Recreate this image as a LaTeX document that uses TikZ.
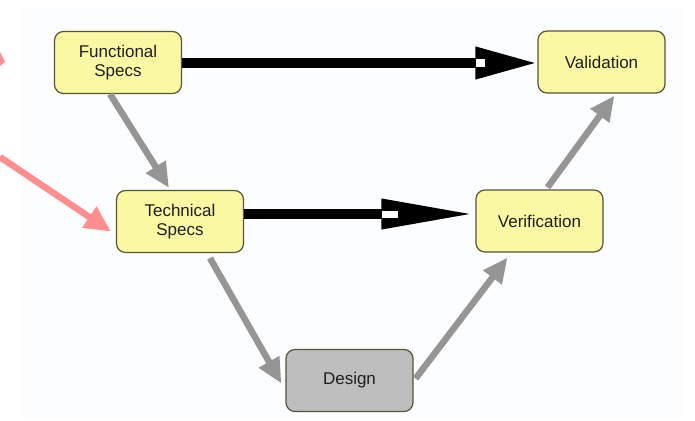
\documentclass[tikz,border=0pt]{standalone}
\usepackage{fontspec}
\setmainfont{Liberation Sans}
\usetikzlibrary{arrows.meta,calc}
\definecolor{boxyellow}{HTML}{FBF8A3}
\definecolor{boxedge}{HTML}{55553A}
\definecolor{designgray}{HTML}{BEBEBE}
\definecolor{arrowgray}{HTML}{959595}
\definecolor{pinkarrow}{HTML}{FF8E8E}
\definecolor{panel}{HTML}{FBFDFE}
\tikzset{
  stage/.style={draw=boxedge, line width=1.2pt, fill=boxyellow, rounded corners=9pt,
    minimum width=127pt, minimum height=62pt, inner sep=0pt, align=center,
    font=\fontsize{17}{19.5}\selectfont, text=black!88},
  designbox/.style={stage, fill=designgray},
  bigarrow/.style={line width=10pt, -{Triangle[length=62pt,width=30pt]}},
  grayarrow/.style={draw=arrowgray, line width=6.5pt, -{Triangle[length=25pt,width=22pt]}, arrowgray},
  notch/.style={fill=white, draw=none, inner sep=0pt}
}
\begin{document}
\begin{tikzpicture}[x=1pt,y=-1pt]
\useasboundingbox (0,0) rectangle (695,420);
\fill[white] (0,0) rectangle (695,420);
\fill[panel] (22,8) rectangle (682,420);

\node[stage] (fs) at (118,62.5) {Functional\\Specs};
\node[stage] (val) at (601.5,62) {Validation};
\node[stage] (ts) at (180,221.5) {Technical\\Specs};
\node[stage] (ver) at (539.5,221) {Verification};
\node[designbox] (des) at (349.5,380.5) {Design};

% black arrows
\draw[bigarrow] ($(fs.east)+(0,0.5)$) -- ($(val.west)+(0,1)$);
\node[notch, minimum width=9pt, minimum height=8pt] at ($(val.west)+(-57,1)$) {};
\draw[bigarrow, -{Triangle[length=93pt,width=28pt]}] ($(ts.east)+(0,-7.5)$) -- ($(ver.west)+(-1,-7)$);
\node[notch, minimum width=16pt, minimum height=7pt] at ($(ver.west)+(-85,-7)$) {};

% gray arrows
\draw[grayarrow] ($(fs.south)+(-8,0)$) -- ($(ts.north)+(-11,-2)$);
\draw[grayarrow] ($(ts.south)+(30,5)$) -- ($(des.west)+(-4,3)$);
\draw[grayarrow] ($(des.east)+(2,-2)$) -- ($(ver.south)+(-32,5)$);
\draw[grayarrow] ($(ver.north)+(8,-2)$) -- ($(val.south)+(13,2)$);

% pink arrows
\coordinate (pinkstart) at (0,157);
\draw[pinkarrow, line width=6.5pt, -{Triangle[length=26pt,width=24pt]}] (pinkstart) -- ($(ts.west)+(-5,10)$);
\fill[pinkarrow] (0,52) -- (5,62) -- (0,66) -- cycle;
\end{tikzpicture}
\end{document}
